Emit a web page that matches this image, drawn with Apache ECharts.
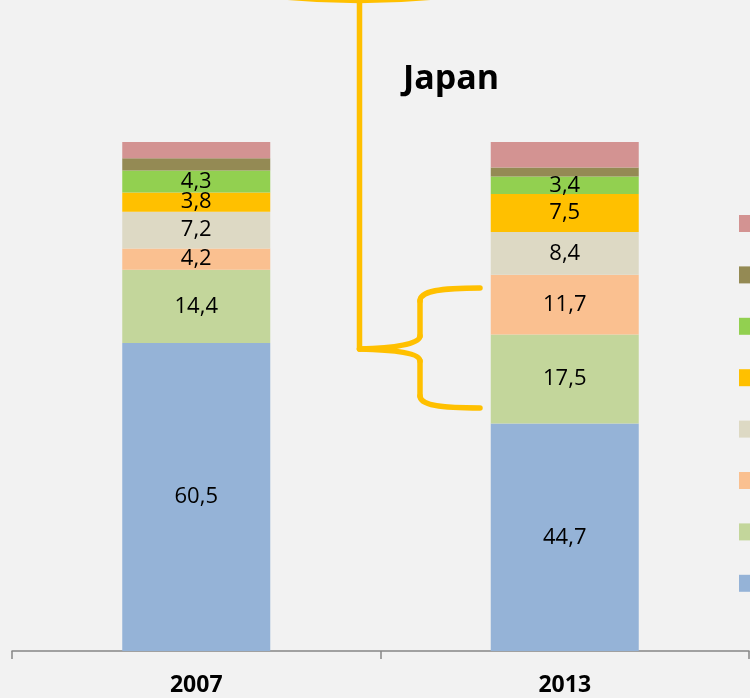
<!DOCTYPE html>
<html>
<head>
<meta charset="utf-8">
<script src="https://cdn.jsdelivr.net/npm/echarts@6/dist/echarts.min.js"></script>
<style>
html,body{margin:0;padding:0;background:#F2F2F2;}
#chart{width:750px;height:698px;}
</style>
</head>
<body>
<div id="chart"></div>
<script>
const categories = ['2007', '2013'];
const seriesNames = ['Segment 1', 'Segment 2', 'Segment 3', 'Segment 4', 'Segment 5', 'Segment 6', 'Segment 7', 'Segment 8'];
const s1 = [60.5, 44.7];
const s2 = [14.4, 17.5];
const s3 = [4.2, 11.7];
const s4 = [7.2, 8.4];
const s5 = [3.8, 7.5];
const s6 = [4.3, 3.4];
const s7 = [2.4, 1.8];
const s8 = [3.2, 5.0];
const seriesValues = [s1, s2, s3, s4, s5, s6, s7, s8];
const showLabel = [true, true, true, true, true, true, false, false];
const colors = ['#95B3D7', '#C3D69B', '#FAC090', '#DDD9C4', '#FFC000', '#92D050', '#948A54', '#D39392'];

const chart = echarts.init(document.getElementById('chart'));
const series = seriesValues.map((vals, i) => ({
  name: seriesNames[i],
  type: 'bar',
  stack: 'total',
  barWidth: 148,
  data: vals,
  itemStyle: { color: colors[i] },
  label: {
    show: showLabel[i],
    position: 'inside',
    color: '#000',
    fontFamily: 'Open Sans',
    fontSize: 22,
    formatter: p => String(p.value).replace('.', ',')
  },
  emphasis: { disabled: true }
}));

const braceStyle = { fill: null, stroke: '#FFC000', lineWidth: 5.5, lineCap: 'round' };
function bez(x1, y1, cx1, cy1, cx2, cy2, x2, y2) {
  return { type: 'bezierCurve', shape: { x1, y1, cpx1: cx1, cpy1: cy1, cpx2: cx2, cpy2: cy2, x2, y2 }, style: braceStyle };
}
function ln(x1, y1, x2, y2) {
  return { type: 'line', shape: { x1, y1, x2, y2 }, style: braceStyle };
}

chart.setOption({
  backgroundColor: '#F2F2F2',
  animation: false,
  title: {
    text: 'Japan',
    left: 446,
    top: 57,
    textAlign: 'center',
    textStyle: { fontFamily: 'Open Sans', fontWeight: 'bold', fontSize: 34, color: '#000' }
  },
  legend: {
    orient: 'vertical',
    left: 739,
    top: 215,
    padding: 0,
    itemWidth: 17,
    itemHeight: 17,
    itemGap: 34.4,
    icon: 'rect',
    data: seriesNames.slice().reverse(),
    textStyle: { fontSize: 12, color: '#000' },
    selectedMode: false
  },
  grid: { left: 12, right: 1, top: 142, bottom: 47 },
  xAxis: {
    type: 'category',
    data: categories,
    axisLine: { lineStyle: { color: '#868686', width: 1.5 } },
    axisTick: { show: true, length: 8, lineStyle: { color: '#868686', width: 1.5 } },
    axisLabel: { fontFamily: 'Open Sans', fontWeight: 'bold', fontSize: 23, color: '#000', margin: 23 }
  },
  yAxis: {
    type: 'value',
    min: 0,
    max: 100,
    show: false,
    splitLine: { show: false }
  },
  graphic: [
    bez(285, -3, 334, 1.7, 384, 1.7, 433, -3),
    ln(359.5, 0, 359.5, 349),
    bez(480, 288, 440, 288, 420, 291, 420, 301),
    ln(420, 301, 420, 336),
    bez(420, 336, 420, 344, 395, 348, 359.5, 349),
    bez(359.5, 349, 395, 350, 420, 353, 420, 361),
    ln(420, 361, 420, 396),
    bez(420, 396, 420, 405, 440, 408, 480, 408)
  ],
  series: series
});
</script>
</body>
</html>
